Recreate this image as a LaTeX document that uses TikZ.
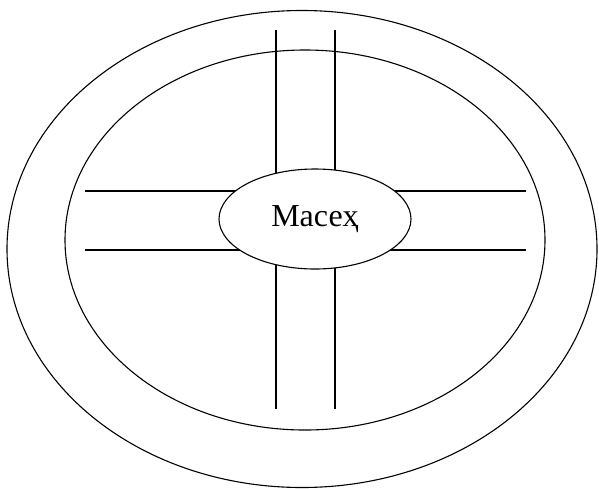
\documentclass[tikz,border=0pt]{standalone}
\usepackage{fontspec}
\setmainfont{Liberation Serif}
\usepackage{xcolor}
\usetikzlibrary{shapes.geometric}

\begin{document}
\begin{tikzpicture}[x=1pt, y=-1pt,
  ring/.style={draw, line width=1.1pt},
  road/.style={line width=2pt},
  hub/.style={draw, ellipse, line width=1.1pt, fill=white, minimum width=192pt, minimum height=100pt, inner sep=0pt, font=\fontsize{32}{35}\selectfont}
]
\useasboundingbox (0,0) rectangle (599,488);
% rings
\draw[ring] (302,249) ellipse [x radius=295, y radius=238.5];
\draw[ring] (305,240) ellipse [x radius=240, y radius=190];
% free ends of the roads
\coordinate (nw) at (276,30);   \coordinate (sw) at (276,409);
\coordinate (ne) at (334.6,30); \coordinate (se) at (334.6,409);
\coordinate (wn) at (85,191);   \coordinate (en) at (526,191);
\coordinate (ws) at (85,250);   \coordinate (es) at (526,250);
\draw[road] (nw) -- (sw);
\draw[road] (ne) -- (se);
\draw[road] (wn) -- (en);
\draw[road] (ws) -- (es);
% centre
\node[hub] (centre) at (315,219) {\raisebox{-2pt}{Масеҳ}};
\end{tikzpicture}
\end{document}
